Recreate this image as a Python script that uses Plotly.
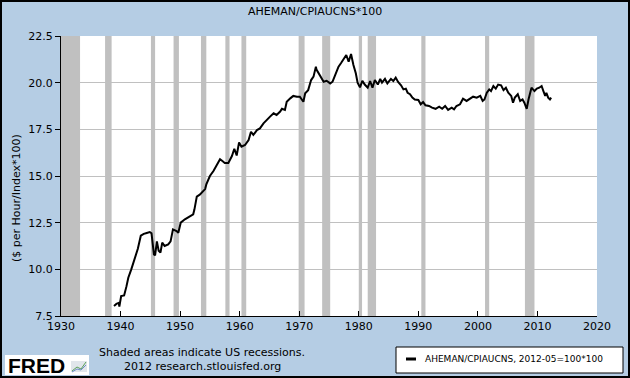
import plotly.graph_objects as go

# ---- data ----
years = [1938.9, 1939.3, 1939.7, 1939.8, 1940.1, 1940.6, 1941.0, 1941.3, 1941.8, 1942.5,
         1942.9, 1943.4, 1943.9, 1944.4, 1944.9, 1945.2, 1945.4, 1945.6, 1945.8, 1946.1,
         1946.4, 1946.7, 1947.0, 1947.4, 1948.0, 1948.4, 1948.8, 1949.4, 1949.7, 1950.1,
         1950.8, 1951.6, 1952.2, 1952.4, 1952.8, 1953.3, 1953.9, 1954.2, 1954.4, 1955.0,
         1955.6, 1956.1, 1956.7, 1957.1, 1957.5, 1958.1, 1958.7, 1959.1, 1959.5, 1959.9,
         1960.3, 1960.9, 1961.5, 1961.9, 1962.3, 1962.9, 1963.4, 1964.0, 1964.5, 1965.1,
         1965.7, 1966.2, 1966.8, 1967.1, 1967.6, 1967.9, 1968.5, 1969.0, 1969.6, 1970.1,
         1970.7, 1971.0, 1971.5, 1972.0, 1972.4, 1972.8, 1972.9, 1973.3, 1973.7, 1974.1,
         1974.6, 1975.2, 1975.6, 1976.0, 1976.6, 1977.0, 1977.4, 1977.9, 1978.3, 1978.7,
         1979.1, 1979.5, 1979.8, 1980.2, 1980.6, 1981.0, 1981.5, 1981.9, 1982.3, 1982.7,
         1983.2, 1983.6, 1983.9, 1984.4, 1984.8, 1985.4, 1985.8, 1986.2, 1986.6, 1987.1,
         1987.5, 1987.9, 1988.2, 1988.6, 1989.0, 1989.4, 1990.0, 1990.4, 1990.8, 1991.2,
         1991.8, 1992.3, 1992.9, 1993.5, 1994.0, 1994.5, 1995.0, 1995.6, 1996.0, 1996.4,
         1997.0, 1997.5, 1998.1, 1998.7, 1999.2, 1999.8, 2000.4, 2000.8, 2001.1, 2001.5,
         2001.9, 2002.2, 2002.6, 2003.0, 2003.4, 2003.9, 2004.3, 2004.7, 2005.1, 2005.6,
         2005.9, 2006.2, 2006.7, 2007.1, 2007.5, 2007.8, 2008.2, 2008.5, 2008.8, 2009.0,
         2009.5, 2009.9, 2010.3, 2010.7, 2011.0, 2011.3, 2011.5, 2011.8, 2012.1, 2012.3]
values = [8.04, 8.15, 8.20, 8.00, 8.57, 8.60, 9.10, 9.55, 10.00, 10.70,
          11.10, 11.80, 11.90, 11.95, 12.00, 11.93, 11.40, 10.80, 10.75, 11.50,
          11.00, 10.90, 11.43, 11.25, 11.34, 11.50, 12.14, 12.05, 11.96, 12.50,
          12.68, 12.86, 12.95, 13.20, 13.90, 14.00, 14.20, 14.30, 14.55, 15.00,
          15.27, 15.54, 15.90, 15.80, 15.70, 15.70, 16.07, 16.46, 16.10, 16.80,
          16.57, 16.66, 16.93, 17.37, 17.20, 17.46, 17.55, 17.82, 18.00, 18.18,
          18.36, 18.27, 18.45, 18.60, 18.54, 18.98, 19.16, 19.29, 19.25, 19.25,
          18.98, 19.43, 19.60, 20.14, 20.32, 20.86, 20.70, 20.50, 20.32, 20.05,
          20.10, 19.96, 20.05, 20.40, 20.86, 21.04, 21.25, 21.48, 21.12, 21.54,
          20.95, 20.50, 20.00, 19.75, 20.10, 19.90, 19.73, 20.09, 19.73, 20.14,
          19.90, 20.20, 20.00, 20.20, 19.96, 20.20, 20.09, 20.27, 20.04, 19.86,
          19.64, 19.68, 19.46, 19.38, 19.20, 19.10, 19.07, 18.84, 18.96, 18.79,
          18.75, 18.66, 18.60, 18.71, 18.60, 18.75, 18.54, 18.66, 18.57, 18.75,
          18.84, 19.14, 19.02, 19.14, 19.25, 19.20, 19.29, 19.02, 19.10, 19.46,
          19.64, 19.55, 19.82, 19.68, 19.90, 19.86, 19.60, 19.73, 19.46, 19.29,
          18.93, 19.20, 19.38, 19.02, 19.10, 18.93, 18.60, 19.10, 19.46, 19.73,
          19.55, 19.68, 19.73, 19.82, 19.55, 19.29, 19.46, 19.20, 19.10, 19.20]

recession_start = [1930.0, 1937.4, 1945.1, 1948.9, 1953.5, 1957.6, 1960.3, 1969.9, 1973.85,
                   1980.0, 1981.5, 1990.5, 2001.2, 2007.9]
recession_end = [1933.2, 1938.5, 1945.8, 1949.8, 1954.4, 1958.3, 1961.1, 1970.9, 1975.2,
                 1980.55, 1982.9, 1991.2, 2001.9, 2009.5]

x_ticks = [1930, 1940, 1950, 1960, 1970, 1980, 1990, 2000, 2010, 2020]
y_ticks = [7.5, 10.0, 12.5, 15.0, 17.5, 20.0, 22.5]

series_name = "AHEMAN/CPIAUCNS, 2012-05=100*100"
title_text = "AHEMAN/CPIAUCNS*100"
y_title = "($ per Hour/Index*100)"

BG = "rgb(181,205,228)"
GRAY = "rgb(192,192,192)"
FONT = "DejaVu Sans"

fig = go.Figure()
fig.add_trace(go.Scatter(x=years, y=values, mode="lines",
                         line=dict(color="black", width=2), showlegend=False,
                         hoverinfo="skip"))

shapes = []
for s, e in zip(recession_start, recession_end):
    shapes.append(dict(type="rect", xref="x", yref="y", x0=s, x1=e, y0=7.5, y1=22.5,
                       fillcolor=GRAY, line=dict(width=0), layer="below"))


def px_x(p):
    return (p - 61) / 536.0


def px_y(p):
    return (316 - p) / 280.0


# outer border
shapes.append(dict(type="rect", xref="paper", yref="paper", x0=px_x(1), x1=px_x(629),
                   y0=px_y(377), y1=px_y(1), line=dict(color="black", width=2),
                   fillcolor="rgba(0,0,0,0)"))
# legend box
shapes.append(dict(type="rect", xref="paper", yref="paper",
                   x0=px_x(396), x1=px_x(623), y0=px_y(373), y1=px_y(347),
                   fillcolor="white", line=dict(color="black", width=1)))
shapes.append(dict(type="line", xref="paper", yref="paper",
                   x0=px_x(406), x1=px_x(416), y0=px_y(359), y1=px_y(359),
                   line=dict(color="black", width=3)))
# FRED logo box and icon
shapes.append(dict(type="rect", xref="paper", yref="paper",
                   x0=px_x(5), x1=px_x(89), y0=px_y(375), y1=px_y(355),
                   fillcolor="white", line=dict(width=0)))
shapes.append(dict(type="rect", xref="paper", yref="paper",
                   x0=px_x(71), x1=px_x(87), y0=px_y(372), y1=px_y(361),
                   fillcolor="rgb(225,230,235)", line=dict(width=0)))
shapes.append(dict(type="path", xref="paper", yref="paper",
                   path="M %f,%f L %f,%f L %f,%f L %f,%f" % (
                       px_x(72), px_y(371), px_x(77), px_y(367), px_x(81), px_y(369), px_x(86), px_y(362)),
                   line=dict(color="rgb(90,160,90)", width=1)))
shapes.append(dict(type="path", xref="paper", yref="paper",
                   path="M %f,%f L %f,%f L %f,%f L %f,%f" % (
                       px_x(72), px_y(372), px_x(77), px_y(369), px_x(81), px_y(370), px_x(86), px_y(365)),
                   line=dict(color="rgb(110,140,200)", width=1)))

annotations = [
    dict(text=title_text, xref="paper", yref="paper", x=px_x(315), y=px_y(11),
         showarrow=False, font=dict(family=FONT, size=11, color="black"),
         xanchor="center", yanchor="middle"),
    dict(text=y_title, xref="paper", yref="paper", x=px_x(17), y=px_y(198),
         showarrow=False, textangle=-90, font=dict(family=FONT, size=11, color="black"),
         xanchor="center", yanchor="middle"),
    dict(text="Shaded areas indicate US recessions.", xref="paper", yref="paper",
         x=px_x(97), y=px_y(352), showarrow=False, xanchor="left", yanchor="middle",
         font=dict(family=FONT, size=11, color="black")),
    dict(text="2012 research.stlouisfed.org", xref="paper", yref="paper",
         x=px_x(122), y=px_y(366), showarrow=False, xanchor="left", yanchor="middle",
         font=dict(family=FONT, size=11, color="black")),
    dict(text=series_name, xref="paper", yref="paper",
         x=px_x(423), y=px_y(359), showarrow=False, xanchor="left", yanchor="middle",
         font=dict(family=FONT, size=9, color="black")),
    dict(text="<b>FRED</b>", xref="paper", yref="paper",
         x=px_x(6), y=px_y(365), showarrow=False, xanchor="left", yanchor="middle",
         font=dict(family="Liberation Sans", size=21, color="black")),
]

fig.update_layout(
    width=630, height=378,
    margin=dict(l=61, r=33, t=36, b=62),
    paper_bgcolor=BG, plot_bgcolor="white",
    shapes=shapes, annotations=annotations,
    font=dict(family=FONT, size=11, color="black"),
    xaxis=dict(range=[1930, 2020], tickvals=x_ticks, ticktext=[str(t) for t in x_ticks],
               showgrid=False, zeroline=False, showline=True, linecolor="black", linewidth=1,
               ticks="inside", ticklen=5, tickcolor="black", tickfont=dict(family=FONT, size=11)),
    yaxis=dict(range=[7.5, 22.5], tickvals=y_ticks, ticktext=["%.1f" % t for t in y_ticks],
               showgrid=True, gridcolor=GRAY, gridwidth=1, zeroline=False,
               showline=True, linecolor="black", linewidth=1,
               ticks="outside", ticklen=5, tickcolor="black", tickfont=dict(family=FONT, size=11)),
)

fig.write_html("out.html", config={"displayModeBar": False},
               post_script="document.body.style.margin='0px';document.body.style.overflow='hidden';")
